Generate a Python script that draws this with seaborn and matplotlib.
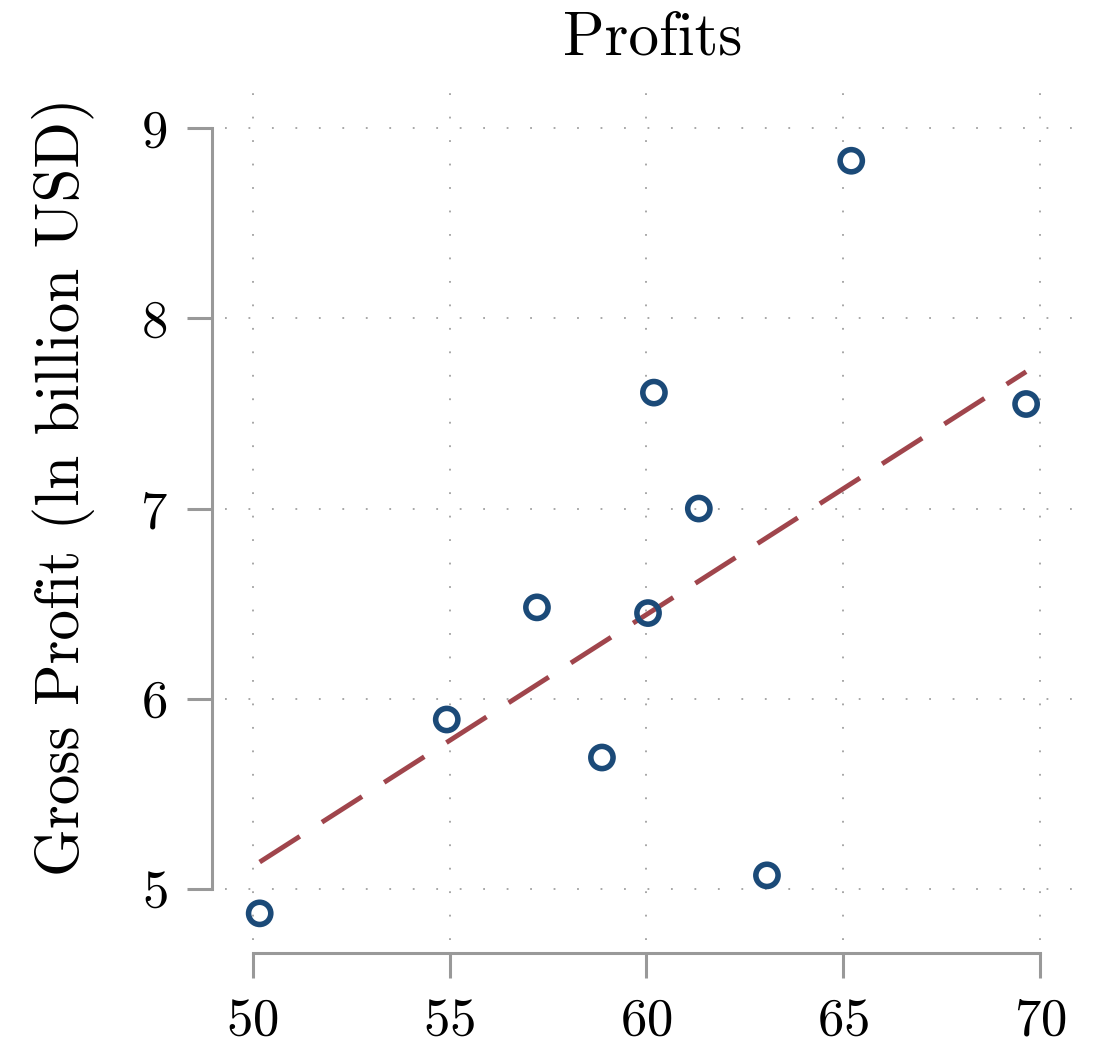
import matplotlib
matplotlib.use("Agg")
import matplotlib.pyplot as plt
import seaborn as sns
import pandas as pd

# 데이터
age = [50.18, 54.93, 57.22, 58.87, 60.04, 60.19, 61.33, 63.06, 65.20, 69.64]
gross_profit = [4.87, 5.89, 6.48, 5.69, 6.45, 7.61, 7.00, 5.07, 8.83, 7.55]
# 추세선 양 끝
trend_x = [50.18, 69.64]
trend_y = [5.14, 7.72]
x_ticks = [50, 55, 60, 65, 70]
y_ticks = [5, 6, 7, 8, 9]

df = pd.DataFrame({"x": age, "y": gross_profit})
trend = pd.DataFrame({"x": trend_x, "y": trend_y})

sns.set_theme(style="ticks")
plt.rcParams["font.family"] = ["cmr10", "DejaVu Serif"]
plt.rcParams["mathtext.fontset"] = "cm"
plt.rcParams["axes.formatter.use_mathtext"] = True
plt.rcParams["text.color"] = "black"
plt.rcParams["axes.labelcolor"] = "black"
plt.rcParams["xtick.labelcolor"] = "black"
plt.rcParams["ytick.labelcolor"] = "black"

fig = plt.figure(figsize=(10.95, 10.59), dpi=100)
ax = fig.add_axes([0.2055, 0.1124, 0.7805, 0.8076])

ax.grid(True, linestyle=(0, (1, 12)), color="#a0a0a0", linewidth=1.3)
ax.set_axisbelow(True)

sns.lineplot(data=trend, x="x", y="y", ax=ax, color="#a0454c",
             linewidth=3.5, linestyle=(0, (9.8, 5.4)))
sns.scatterplot(data=df, x="x", y="y", ax=ax, s=256, marker="o",
                color="#1b4a78", edgecolor="#1b4a78", linewidth=4.0, zorder=3)
ax.collections[-1].set_facecolor("none")

ax.set_xlim(49.3, 71.0)
ax.set_ylim(4.73, 9.23)
ax.set_xticks(x_ticks)
ax.set_yticks(y_ticks)
ax.set_xlabel("")
ax.set_ylabel("Gross Profit (ln billion USD)", fontsize=44)
ax.yaxis.set_label_coords(-0.152, 0.53)
ax.set_title("Profits", fontsize=44, pad=22)
ax.tick_params(axis="both", labelsize=38, length=18, width=2.2,
               color="#999999", pad=14)

sns.despine(ax=ax, offset=9.5, trim=True)
for side in ["left", "bottom"]:
    ax.spines[side].set_color("#999999")
    ax.spines[side].set_linewidth(2.2)

plt.savefig("out.png", dpi=100)
plt.close()
